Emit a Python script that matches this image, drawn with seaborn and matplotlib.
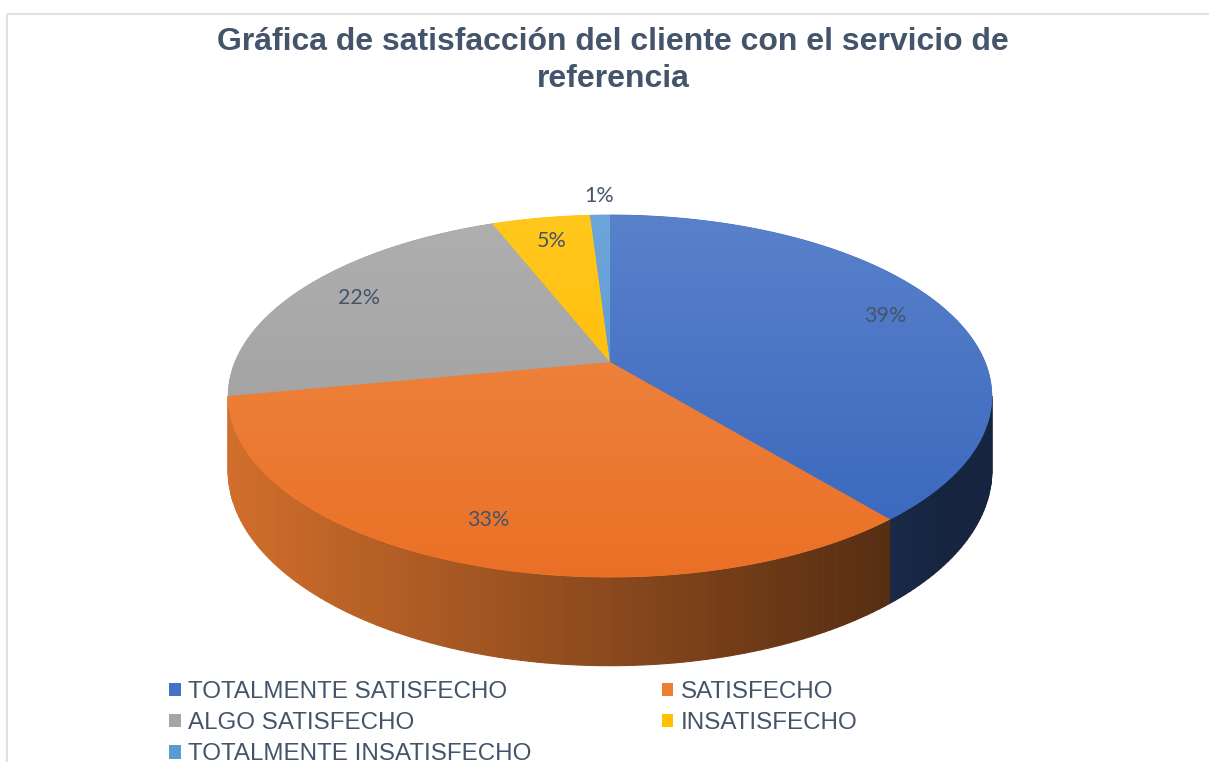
import numpy as np
import matplotlib
matplotlib.use("Agg")
import matplotlib.pyplot as plt
import seaborn as sns
from matplotlib.patches import Polygon, Patch, Rectangle
from matplotlib.collections import PolyCollection
from matplotlib.colors import to_rgb

# datos
categorias = ["TOTALMENTE SATISFECHO", "SATISFECHO", "ALGO SATISFECHO",
              "INSATISFECHO", "TOTALMENTE INSATISFECHO"]
porcentajes = [39, 33, 22, 5, 1]
colores = ["#4472C4", "#ED7D31", "#A5A5A5", "#FFC000", "#5B9BD5"]
titulo = "Gráfica de satisfacción del cliente con el servicio de\nreferencia"

sns.set_theme(style="white")
plt.rcParams["font.family"] = ["Liberation Sans", "DejaVu Sans"]

W, H = 1209, 762
fig = plt.figure(figsize=(W / 100, H / 100), dpi=100)
ax = fig.add_axes([0, 0, 1, 1])

# geometria del pastel 3D (pixeles, perspectiva simple)
CX, CY = 610, 362
A, B = 375, 174.6
U = 0.188
DEPTH = 72


def proyectar(theta, r=1.0, caida=0.0):
    c = r * np.cos(theta)
    s = r * np.sin(theta)
    w = 1 + U * c
    return CX + A * s / w, CY + (-B * c + caida) / w


vals = np.array(porcentajes, dtype=float)
fin = np.cumsum(vals) / vals.sum() * 2 * np.pi
ini = np.concatenate([[0], fin[:-1]])
paleta = [np.array(to_rgb(c)) for c in sns.color_palette(colores)]

# caras laterales visibles
ta = np.arccos(-U)
tb = 2 * np.pi - ta
quads, fcols = [], []
for t0, t1, col in zip(ini, fin, paleta):
    lo, hi = max(t0, ta), min(t1, tb)
    if hi <= lo:
        continue
    ts = np.linspace(lo, hi, max(3, int(np.degrees(hi - lo))))
    for a, b in zip(ts[:-1], ts[1:]):
        xa, ya = proyectar(a)
        xb, yb = proyectar(b)
        xa2, ya2 = proyectar(a, caida=DEPTH)
        xb2, yb2 = proyectar(b, caida=DEPTH)
        quads.append([(xa, ya), (xb, yb), (xb2, yb2), (xa2, ya2)])
        xm = (xa + xb) / 2
        f = np.clip(0.88 - 0.51 * (xm - 230) / 650, 0.32, 0.9)
        fcols.append(col * f)
ax.add_collection(PolyCollection(quads, facecolors=fcols, edgecolors=fcols,
                                 linewidths=0.8, zorder=1))

# caras superiores con degradado vertical
yy = np.linspace(200, 600, 200)
tt = np.clip((yy - 215) / (577 - 215), 0, 1)[:, None, None]
for t0, t1, col in zip(ini, fin, paleta):
    ts = np.linspace(t0, t1, max(4, int(np.degrees(t1 - t0)) * 2))
    xs, ys = proyectar(ts)
    pts = [(CX, CY)] + list(zip(xs, ys))
    base = Polygon(pts, closed=True, facecolor=col, edgecolor=col,
                   linewidth=0.6, zorder=2)
    ax.add_patch(base)
    arriba = col + (1 - col) * 0.11
    abajo = col ** 1.15
    img = (arriba[None, None, :] * (1 - tt) + abajo[None, None, :] * tt)
    img = np.repeat(img, 2, axis=1)
    im = ax.imshow(img, extent=(200, 1020, 600, 200), origin="upper",
                   aspect="auto", interpolation="bilinear", zorder=3)
    im.set_clip_path(base)

# etiquetas de porcentaje
for t0, t1, p in zip(ini, fin, porcentajes):
    r = 0.82 if p >= 3 else 1.16
    x, y = proyectar((t0 + t1) / 2, r=r)
    ax.text(x, y, f"{p}%", ha="center", va="center", fontsize=15.5,
            color="#44546A", family=["Lato", "DejaVu Sans"], zorder=5)

# titulo
ax.text(613, 27, titulo, ha="center", va="top", fontsize=23, fontweight="bold",
        color="#44546A", linespacing=1.3, zorder=5)

# marco
ax.add_patch(Rectangle((6.5, 13.5), 1250, 800, fill=False, edgecolor="#DDE2E8",
                       linewidth=1.5, zorder=0))

# leyenda (orden por filas)
orden = [0, 2, 4, 1, 3]
handles = [Patch(facecolor=colores[i], edgecolor="none") for i in orden]
labels = [categorias[i] for i in orden]
ax.legend(handles, labels, ncol=2, loc="upper left",
          bbox_to_anchor=(169, 681), bbox_transform=ax.transData,
          frameon=False, fontsize=17.4, handlelength=0.48, handleheight=0.48,
          handletextpad=0.3, columnspacing=5.4, labelspacing=0.38,
          borderpad=0, borderaxespad=0, labelcolor="#44546A")

ax.set_xlim(0, W)
ax.set_ylim(H, 0)
ax.axis("off")
fig.savefig("out.png", dpi=100, facecolor="white")
